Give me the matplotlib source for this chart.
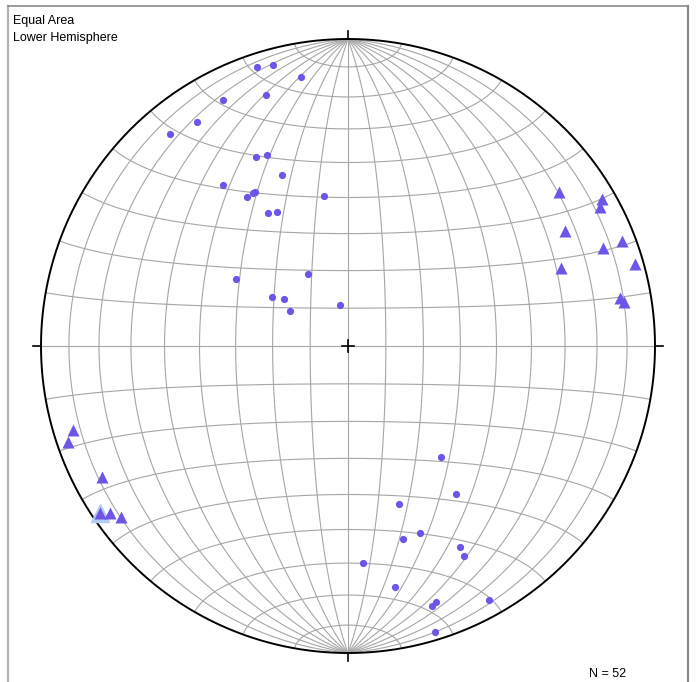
import numpy as np
import matplotlib
matplotlib.use("Agg")
import matplotlib.pyplot as plt

# Config
OUTPUT_PNG = "out.png"
PURPLE = "#6e55e8"
HALO = "#b4cdf6"
GRID = "#a6a6a6"

# Poles shown as dots (trend, plunge in degrees)
dot_trend = [342, 345, 350, 342, 333, 326, 320, 334, 337, 339, 322, 326, 328, 329,
             329, 332, 351, 301, 331, 303, 306, 301, 349,
             140, 144, 162, 164, 159, 151, 151, 176, 169, 161, 162, 151, 163]
dot_plunge = [5, 6, 12, 15, 11, 13, 11, 32, 33, 40, 34, 41, 41, 41,
              48, 49, 49, 55, 68, 66, 69, 72, 79,
              51, 40, 45, 35, 35, 26, 23, 30, 21, 13, 12, 6, 3]

# Lineations shown as triangles
tri_trend = [54, 60, 61, 62, 69, 69, 70, 74, 80, 81,
             253, 251, 242, 236, 235, 233]
tri_plunge = [16, 5, 7, 21, 5, 12, 27, 3, 11, 10,
              7, 4, 10, 3, 6, 8]

# The one selected triangle (index into tri lists)
selected = [13]

# Net geometry in pixels of the 696x682 image
W, H = 696, 682
CX, CY, R = 348, 346, 307


def project(trend, plunge):
    t = np.radians(np.asarray(trend, dtype=float))
    p = np.radians(np.asarray(plunge, dtype=float))
    e = np.cos(p) * np.sin(t)
    n = np.cos(p) * np.cos(t)
    d = np.sin(p)
    k = 1.0 / np.sqrt(1.0 + d)
    return e * k, n * k


def vec_project(e, n, d):
    k = 1.0 / np.sqrt(1.0 + d)
    return e * k, n * k


def main():
    fig = plt.figure(figsize=(W / 100, H / 100), dpi=100)
    ax = fig.add_axes([0, 0, 1, 1])
    ax.set_xlim(-CX / R, (W - CX) / R)
    ax.set_ylim(-(H - CY) / R, CY / R)
    ax.axis("off")

    # --- Schmidt net grid ---
    t = np.radians(np.linspace(-90, 90, 361))
    for dip in range(10, 180, 10):
        dl = np.radians(dip)
        e = np.cos(t) * np.cos(dl)
        n = np.sin(t)
        d = np.cos(t) * np.sin(dl)
        x, y = vec_project(e, n, d)
        ax.plot(x, y, color=GRID, lw=0.8, zorder=1)

    phi = np.radians(np.linspace(0, 180, 361))
    for c in range(10, 180, 10):
        cl = np.radians(c)
        e = np.sin(cl) * np.cos(phi)
        n = np.full_like(phi, np.cos(cl))
        d = np.sin(cl) * np.sin(phi)
        x, y = vec_project(e, n, d)
        ax.plot(x, y, color=GRID, lw=0.8, zorder=1)

    # primitive circle
    a = np.linspace(0, 2 * np.pi, 721)
    ax.plot(np.cos(a), np.sin(a), color="black", lw=1.4, zorder=3)

    # cardinal ticks and centre cross
    tk = 8 / R
    ax.plot([0, 0], [1, 1 + tk], color="black", lw=1.2, zorder=3)
    ax.plot([0, 0], [-1, -1 - tk], color="black", lw=1.2, zorder=3)
    ax.plot([-1 - tk, -1], [0, 0], color="black", lw=1.2, zorder=3)
    ax.plot([1, 1 + tk], [0, 0], color="black", lw=1.2, zorder=3)
    cs = 6 / R
    ax.plot([-cs, cs], [0, 0], color="black", lw=1.2, zorder=3)
    ax.plot([0, 0], [-cs, cs], color="black", lw=1.2, zorder=3)

    # --- data ---
    sx = [tri_trend[i] for i in selected]
    sy = [tri_plunge[i] for i in selected]
    hx, hy = project(sx, sy)
    ax.plot(hx, hy, "^", ms=13, color=HALO, mec=HALO, zorder=4)

    dx, dy = project(dot_trend, dot_plunge)
    ax.plot(dx, dy, "o", ms=5.2, color=PURPLE, mec="none", zorder=5)

    tx, ty = project(tri_trend, tri_plunge)
    ax.plot(tx, ty, "^", ms=9, color=PURPLE, mec="none", zorder=5)

    # --- frame and labels ---
    fig.add_artist(plt.Line2D([7.5 / W, 7.5 / W], [0, 1 - 6 / H],
                              color="#b0b0b0", lw=1.6))
    fig.add_artist(plt.Line2D([7.5 / W, 688 / W], [1 - 6 / H, 1 - 6 / H],
                              color="#8a8a8a", lw=1.2))
    fig.add_artist(plt.Line2D([688 / W, 688 / W], [0, 1 - 6 / H],
                              color="#8a8a8a", lw=1.6))

    font = "Liberation Sans"
    fig.text(13 / W, 1 - 24 / H, "Equal Area", fontsize=9, family=font,
             va="baseline")
    fig.text(13 / W, 1 - 41 / H, "Lower Hemisphere", fontsize=9, family=font,
             va="baseline")
    fig.text(608 / W, 1 - 677 / H, f"N = {len(dot_trend) + len(tri_trend)}",
             fontsize=9, family=font, ha="center", va="baseline")

    fig.savefig(OUTPUT_PNG, dpi=100)
    plt.close(fig)


if __name__ == "__main__":
    main()
